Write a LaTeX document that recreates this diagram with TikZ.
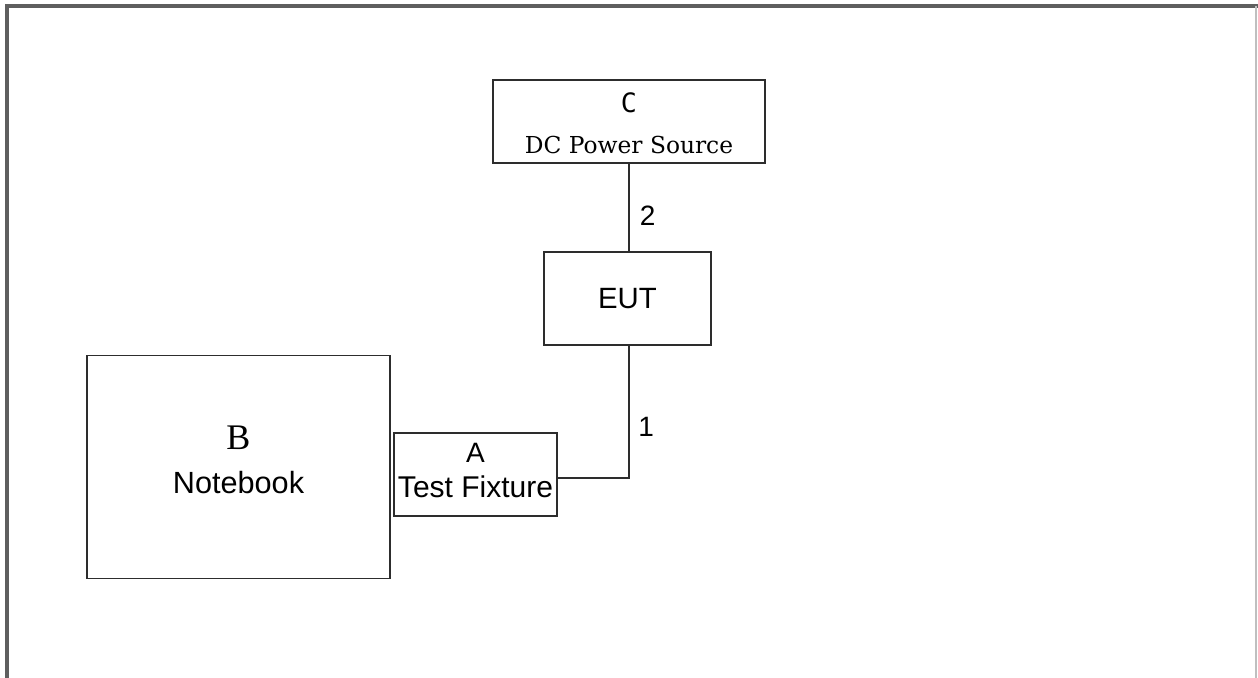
\documentclass[tikz,border=0pt]{standalone}
\usepackage{fontspec}
\setmainfont{Liberation Sans}
\newfontfamily\dcserif{DejaVu Serif}
\newfontfamily\bserif{Liberation Serif}
\newfontfamily\cmono{DejaVu Sans Mono}
\usetikzlibrary{positioning}
\definecolor{frameline}{RGB}{95,95,95}
\definecolor{boxline}{RGB}{45,45,45}

\begin{document}
\begin{tikzpicture}[
    x=0.75pt, y=-0.75pt,
    box/.style={rectangle, draw=boxline, line width=1.2pt, inner sep=0pt, align=center},
    wire/.style={draw=boxline, line width=1.2pt},
    num/.style={inner sep=0pt, font=\fontsize{21}{24}\selectfont},
]
    \useasboundingbox (0,0) rectangle (1258,678);
    \draw[frameline, line width=2.4pt] (7,678) -- (7,6) -- (1258,6);
    \draw[black!25, line width=0.8pt] (1256,6) -- (1256,678);

    % boxes
    \node[box, minimum width=204pt, minimum height=62.25pt,
          font=\fontsize{17.5}{30.75}\selectfont] (dcsrc) at (629,121.5)
          {\rule{0pt}{18pt}{\cmono\fontsize{20}{30.75}\selectfont C}\\{\dcserif DC Power Source}};
    \node[box, minimum width=125.25pt, minimum height=69.75pt,
          font=\fontsize{22}{26}\selectfont] (eut) at (627.5,298.5) {EUT};
    \node[box, minimum width=227.25pt, minimum height=167.25pt,
          font=\fontsize{23}{33}\selectfont] (notebook) at (238.5,467)
          {{\bserif\fontsize{27}{33}\selectfont B}\\Notebook\rule[-10.5pt]{0pt}{0pt}};
    \node[box, minimum width=122.25pt, minimum height=62.25pt,
          font=\fontsize{22.5}{26}\selectfont] (fixture) at (475.5,474.5)
          {{\fontsize{21}{26}\selectfont A}\\Test Fixture\rule[-6pt]{0pt}{0pt}};

    % cables
    \draw[wire] ([xshift=1.1pt]eut.north |- dcsrc.south) -- node[num, pos=0.59, right=7.5pt] (n2) {2}
        ([xshift=1.1pt]eut.north);
    \draw[wire] ([xshift=1.1pt]eut.south) |- node[num, pos=0.305, right=6.5pt] (n1) {1}
        ([yshift=-2.6pt]fixture.east);
\end{tikzpicture}
\end{document}
